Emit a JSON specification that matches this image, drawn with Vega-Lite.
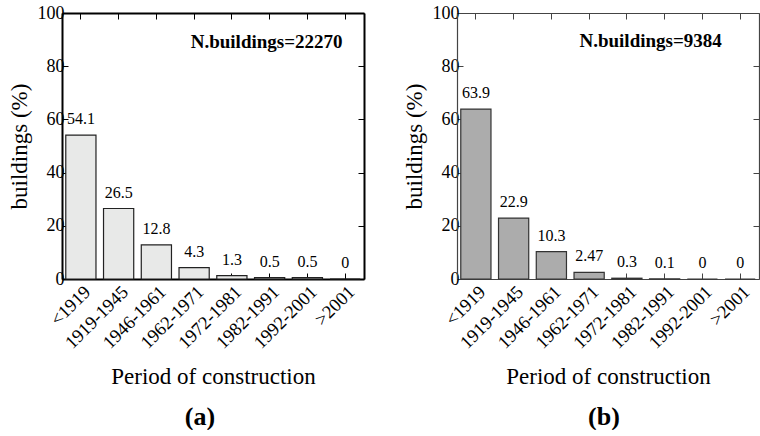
{
  "$schema": "https://vega.github.io/schema/vega-lite/v6.json",
  "background": "white",
  "padding": {"left": 8, "top": 4, "right": 0, "bottom": 0},
  "config": {
    "font": "Liberation Serif, serif",
    "text": {"font": "Liberation Serif, serif"},
    "view": {"stroke": null},
    "axis": {
      "labelFont": "Liberation Serif, serif",
      "titleFont": "Liberation Serif, serif",
      "labelColor": "#000",
      "titleColor": "#000",
      "titleFontWeight": "normal",
      "labelFontSize": 18,
      "titleFontSize": 23,
      "grid": false
    },
    "title": {"font": "Liberation Serif, serif", "color": "#000"}
  },
  "datasets": {
    "a": [
      {"period": "<1919", "pct": 54.1, "label": "54.1"},
      {"period": "1919-1945", "pct": 26.5, "label": "26.5"},
      {"period": "1946-1961", "pct": 12.8, "label": "12.8"},
      {"period": "1962-1971", "pct": 4.3, "label": "4.3"},
      {"period": "1972-1981", "pct": 1.3, "label": "1.3"},
      {"period": "1982-1991", "pct": 0.5, "label": "0.5"},
      {"period": "1992-2001", "pct": 0.5, "label": "0.5"},
      {"period": ">2001", "pct": 0, "label": "0"}
    ],
    "b": [
      {"period": "<1919", "pct": 63.9, "label": "63.9"},
      {"period": "1919-1945", "pct": 22.9, "label": "22.9"},
      {"period": "1946-1961", "pct": 10.3, "label": "10.3"},
      {"period": "1962-1971", "pct": 2.47, "label": "2.47"},
      {"period": "1972-1981", "pct": 0.3, "label": "0.3"},
      {"period": "1982-1991", "pct": 0.1, "label": "0.1"},
      {"period": "1992-2001", "pct": 0, "label": "0"},
      {"period": ">2001", "pct": 0, "label": "0"}
    ],
    "na": [{"period": "1982-1991", "pct": 87, "note": "N.buildings=22270"}],
    "nb": [{"period": "1982-1991", "pct": 87.2, "note": "N.buildings=9384"}]
  },
  "spacing": 38,
  "hconcat": [
    {
      "width": 302,
      "height": 266,
      "title": {"text": "(a)", "orient": "bottom", "fontSize": 26, "fontWeight": "bold", "offset": 15, "dx": -13, "anchor": "middle", "font": "Liberation Serif, serif"},
      "layer": [
        {
          "data": {"name": "a"},
          "mark": {"type": "bar", "fill": "#e8e9e8", "stroke": "#222", "strokeWidth": 1.2},
          "encoding": {
            "x": {"field": "period", "type": "nominal", "sort": null,
              "scale": {"domain": ["<1919", "1919-1945", "1946-1961", "1962-1971", "1972-1981", "1982-1991", "1992-2001", ">2001"], "paddingInner": 0.2, "paddingOuter": 0.1},
              "axis": {"orient": "bottom", "title": "Period of construction", "labelAngle": -45, "labelFontSize": 18.5, "tickSize": -6, "tickColor": "#000", "domainColor": "#000", "domainWidth": 2, "labelPadding": 9, "titlePadding": 14}},
            "y": {"field": "pct", "type": "quantitative", "scale": {"domain": [0, 100]},
              "axis": {"orient": "left", "title": "buildings (%)", "values": [0, 20, 40, 60, 80, 100], "tickSize": -6, "tickColor": "#000", "domainColor": "#000", "domainWidth": 2, "labelPadding": 4, "titlePadding": 6}}
          }
        },
        {
          "data": {"name": "a"},
          "mark": {"type": "text", "fontSize": 16, "baseline": "alphabetic", "dy": -11, "color": "#000"},
          "encoding": {
            "x": {"field": "period", "type": "nominal", "sort": null, "axis": null},
            "y": {"field": "pct", "type": "quantitative", "axis": null},
            "text": {"field": "label", "type": "nominal"}
          }
        },
        {
          "data": {"name": "na"},
          "mark": {"type": "text", "fontSize": 19, "fontWeight": "bold", "baseline": "alphabetic", "dx": -3, "color": "#000"},
          "encoding": {
            "x": {"field": "period", "type": "nominal", "sort": null, "axis": null},
            "y": {"field": "pct", "type": "quantitative", "axis": null},
            "text": {"field": "note", "type": "nominal"}
          }
        },
        {
          "data": {"name": "a"},
          "mark": {"type": "bar", "opacity": 0},
          "encoding": {
            "x": {"field": "period", "type": "nominal", "sort": null,
              "axis": {"orient": "top", "title": null, "labels": false, "tickSize": -6, "tickColor": "#000", "domainColor": "#000", "domainWidth": 2}},
            "y": {"field": "pct", "type": "quantitative",
              "axis": {"orient": "right", "title": null, "labels": false, "values": [0, 20, 40, 60, 80, 100], "tickSize": -6, "tickColor": "#000", "domainColor": "#000", "domainWidth": 2}}
          }
        }
      ],
      "resolve": {"axis": {"x": "independent", "y": "independent"}}
    },
    {
      "width": 302,
      "height": 266,
      "title": {"text": "(b)", "orient": "bottom", "fontSize": 26, "fontWeight": "bold", "offset": 15, "dx": -4, "anchor": "middle", "font": "Liberation Serif, serif"},
      "layer": [
        {
          "data": {"name": "b"},
          "mark": {"type": "bar", "fill": "#acacac", "stroke": "#333", "strokeWidth": 1.2},
          "encoding": {
            "x": {"field": "period", "type": "nominal", "sort": null,
              "scale": {"domain": ["<1919", "1919-1945", "1946-1961", "1962-1971", "1972-1981", "1982-1991", "1992-2001", ">2001"], "paddingInner": 0.2, "paddingOuter": 0.1},
              "axis": {"orient": "bottom", "title": "Period of construction", "labelAngle": -45, "labelFontSize": 18.5, "tickSize": -6, "tickColor": "#444", "domainColor": "#444", "domainWidth": 1.2, "labelPadding": 9, "titlePadding": 14}},
            "y": {"field": "pct", "type": "quantitative", "scale": {"domain": [0, 100]},
              "axis": {"orient": "left", "title": "buildings (%)", "values": [0, 20, 40, 60, 80, 100], "tickSize": -6, "tickColor": "#444", "domainColor": "#444", "domainWidth": 1.2, "labelPadding": 4, "titlePadding": 6}}
          }
        },
        {
          "data": {"name": "b"},
          "mark": {"type": "text", "fontSize": 16, "baseline": "alphabetic", "dy": -11, "color": "#000"},
          "encoding": {
            "x": {"field": "period", "type": "nominal", "sort": null, "axis": null},
            "y": {"field": "pct", "type": "quantitative", "axis": null},
            "text": {"field": "label", "type": "nominal"}
          }
        },
        {
          "data": {"name": "nb"},
          "mark": {"type": "text", "fontSize": 19, "fontWeight": "bold", "baseline": "alphabetic", "dx": -14, "color": "#000"},
          "encoding": {
            "x": {"field": "period", "type": "nominal", "sort": null, "axis": null},
            "y": {"field": "pct", "type": "quantitative", "axis": null},
            "text": {"field": "note", "type": "nominal"}
          }
        },
        {
          "data": {"name": "b"},
          "mark": {"type": "bar", "opacity": 0},
          "encoding": {
            "x": {"field": "period", "type": "nominal", "sort": null,
              "axis": {"orient": "top", "title": null, "labels": false, "tickSize": -6, "tickColor": "#444", "domainColor": "#444", "domainWidth": 1.2}},
            "y": {"field": "pct", "type": "quantitative",
              "axis": {"orient": "right", "title": null, "labels": false, "values": [0, 20, 40, 60, 80, 100], "tickSize": -6, "tickColor": "#444", "domainColor": "#444", "domainWidth": 1.2}}
          }
        }
      ],
      "resolve": {"axis": {"x": "independent", "y": "independent"}}
    }
  ]
}
